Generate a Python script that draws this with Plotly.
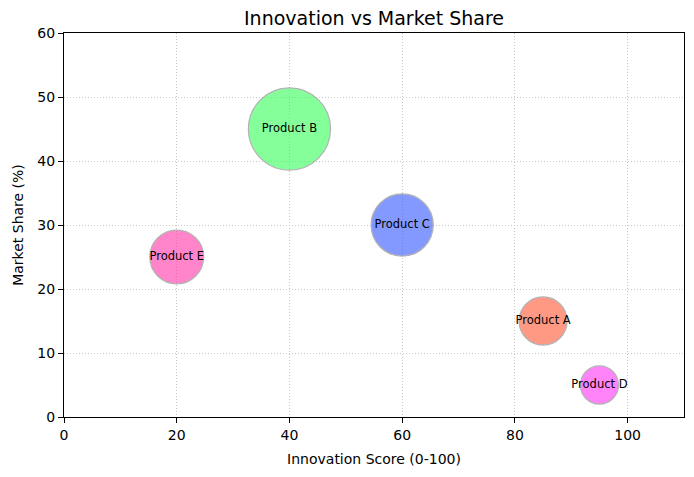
import plotly.graph_objects as go

products = ["Product A", "Product B", "Product C", "Product D", "Product E"]
innovation = [85, 40, 60, 95, 20]
market_share = [15, 45, 30, 5, 25]
bubble_area = [1200, 3500, 2000, 750, 1500]
colors = ["#FF5733", "#33FF57", "#3357FF", "#FF33F6", "#FF33A8"]

FONT = "DejaVu Sans"

fig = go.Figure()
fig.add_trace(
    go.Scatter(
        x=innovation,
        y=market_share,
        mode="markers+text",
        text=products,
        textposition="middle center",
        textfont=dict(family=FONT, size=11.5, color="black"),
        marker=dict(
            size=bubble_area,
            sizemode="area",
            sizeref=1.036,
            color=colors,
            opacity=0.6,
            line=dict(color="gray", width=1.2),
        ),
        showlegend=False,
        hoverinfo="x+y+text",
    )
)

axis_common = dict(
    showline=True,
    linecolor="black",
    linewidth=1.2,
    mirror=True,
    ticks="outside",
    ticklen=5,
    tickcolor="black",
    showgrid=True,
    gridcolor="#c8c8c8",
    griddash="1px,2px",
    gridwidth=1,
    zeroline=False,
    automargin=False,
    tickfont=dict(family=FONT, size=14, color="black"),
    title_font=dict(family=FONT, size=14, color="black"),
)

# page body adds an 8px offset, so the figure is kept inside the window
fig.update_layout(
    width=686,
    height=469,
    paper_bgcolor="white",
    plot_bgcolor="white",
    margin=dict(l=56, r=10, t=25, b=60, autoexpand=False),
    title=dict(
        text="Innovation vs Market Share",
        x=0.5,
        xref="paper",
        xanchor="center",
        y=0.977,
        yanchor="middle",
        font=dict(family=FONT, size=19, color="black"),
    ),
    xaxis=dict(range=[0, 110], dtick=20, title=dict(text="Innovation Score (0-100)", standoff=12), **axis_common),
    yaxis=dict(range=[0, 60], dtick=10, title=dict(text="Market Share (%)", standoff=10), **axis_common),
)

fig.write_html("out.html")
